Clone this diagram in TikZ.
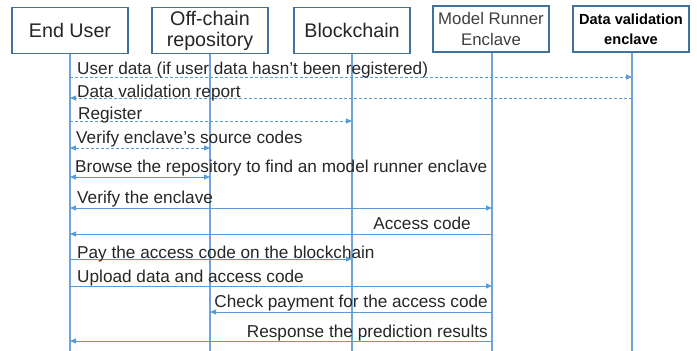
\documentclass[tikz,border=0pt]{standalone}
\usepackage{fontspec}
\setmainfont{Liberation Sans}
\usetikzlibrary{arrows.meta}
\definecolor{boxc}{HTML}{41719C}
\definecolor{msgc}{HTML}{5B9BD5}
\definecolor{lifec}{HTML}{6FA3DA}
\definecolor{txtc}{HTML}{262626}
\tikzset{
  actor/.style={draw=boxc, line width=1.4pt, fill=white, minimum height=46pt, inner sep=0pt, align=center, text=txtc},
  life/.style={draw=lifec, line width=1.1pt},
  msg/.style={draw=msgc, line width=0.9pt, -{Triangle[length=6pt,width=5pt]}},
  bmsg/.style={draw=msgc, line width=0.9pt, {Triangle[length=6pt,width=5pt]}-{Triangle[length=6pt,width=5pt]}},
  dsh/.style={dash pattern=on 3pt off 2pt},
  lbl/.style={font=\fontsize{17.2}{20}\selectfont, text=txtc, inner sep=0pt},
}
\begin{document}
\begin{tikzpicture}[x=1pt,y=-1pt]
\useasboundingbox (0,0) rectangle (697,351);
% actors
\node[actor, minimum width=116pt, font=\fontsize{19.7}{22}\selectfont] (eu) at (70,30.5) {End User};
\node[actor, minimum width=116pt, font=\fontsize{19.7}{22}\selectfont] (oc) at (210,30.5) {Off-chain\\[-1pt]repository};
\node[actor, minimum width=116pt, font=\fontsize{19.7}{22}\selectfont] (bc) at (352,30.5) {Blockchain};
\node[actor, minimum width=116pt, font=\fontsize{16.8}{22}\selectfont, text=black!75] (mr) at (491,29) {Model Runner\\[-1pt]Enclave};
\node[actor, minimum width=116pt, font=\bfseries\fontsize{14.6}{20}\selectfont, text=black] (dv) at (631,29) {Data validation\\enclave};
% lifeline ends
\coordinate (eue) at (70,351);
\coordinate (oce) at (210,351);
\coordinate (bce) at (352,351);
\coordinate (mre) at (492,351);
\coordinate (dve) at (632,351);
\draw[life] (eu.south -| eue) -- (eue);
\draw[life] (oc.south -| oce) -- (oce);
\draw[life] (bc.south -| bce) -- (bce);
\draw[life] (mr.south -| mre) -- (mre);
\draw[life] (dv.south -| dve) -- (dve);
% messages
\draw[msg,dsh] (eue |- 0,77) -- (dve |- 0,77);
\node[lbl, anchor=base west] (t1) at (77,74) {User data (if user data hasn’t been registered)};
\draw[msg,dsh] (dve |- 0,98) -- (eue |- 0,98);
\node[lbl, anchor=base west] (t2) at (77,97) {Data validation report};
\draw[msg,dsh] (eue |- 0,121) -- (bce |- 0,121);
\node[lbl, anchor=base west] (t3) at (78,119) {Register};
\draw[bmsg,dsh] (eue |- 0,148) -- (oce |- 0,148);
\node[lbl, anchor=base west] (t4) at (76,143) {Verify enclave’s source codes};
\draw[bmsg] (eue |- 0,177) -- (oce |- 0,177);
\node[lbl, anchor=base west] (t5) at (75,172) {Browse the repository to find an model runner enclave};
\draw[bmsg] (eue |- 0,208) -- (mre |- 0,208);
\node[lbl, anchor=base west] (t6) at (77,203) {Verify the enclave};
\draw[msg] (mre |- 0,234) -- (eue |- 0,234);
\node[lbl, anchor=base east] (t7) at (471,229) {Access code};
\draw[msg] (eue |- 0,259) -- (bce |- 0,259);
\node[lbl, anchor=base west] (t8) at (77,258) {Pay the access code on the blockchain};
\draw[msg] (eue |- 0,286) -- (mre |- 0,286);
\node[lbl, anchor=base west] (t9) at (77,282) {Upload data and access code};
\draw[msg] (mre |- 0,312) -- (oce |- 0,312);
\node[lbl, anchor=base east] (t10) at (488,307) {Check payment for the access code};
\draw[msg] (mre |- 0,341) -- (eue |- 0,341);
\node[lbl, anchor=base east] (t11) at (488,337) {Response the prediction results};
\end{tikzpicture}
\end{document}
